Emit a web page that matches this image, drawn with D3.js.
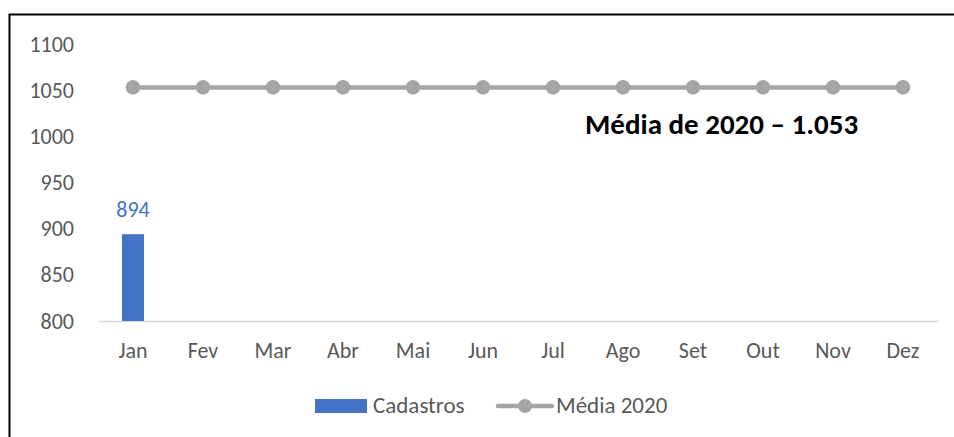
<!DOCTYPE html>
<html><head><meta charset="utf-8">
<script src="https://cdn.jsdelivr.net/npm/d3@7"></script>
<style>body{margin:0;background:#fff}svg{display:block}</style>
</head><body>
<svg id="c" width="954" height="437"></svg>
<script>
const months = ["Jan","Fev","Mar","Abr","Mai","Jun","Jul","Ago","Set","Out","Nov","Dez"];
const cadastros = [894,null,null,null,null,null,null,null,null,null,null,null];
const media2020 = [1053,1053,1053,1053,1053,1053,1053,1053,1053,1053,1053,1053];
const yTicks = [800,850,900,950,1000,1050,1100];
const annotation = "Média de 2020 – 1.053";

const font = "Calibri, Carlito, 'Open Sans', sans-serif";
const svg = d3.select("#c");
svg.append("rect").attr("x",9.5).attr("y",14.5).attr("width",1100).attr("height",600)
  .attr("fill","#fff").attr("stroke","#000").attr("stroke-width",2);

const x = d3.scaleBand().domain(months).range([98,938]);
const y = d3.scaleLinear().domain([800,1100]).range([321,44]);

// y axis labels
svg.append("g").attr("transform","translate(74,0)")
  .call(d3.axisLeft(y).tickValues(yTicks).tickSize(0).tickPadding(0).tickFormat(d3.format("d")))
  .call(g=>g.select(".domain").remove())
  .call(g=>g.selectAll("text").attr("font-family",font).attr("font-size",22).attr("fill","#595959"));

// x axis
svg.append("g").attr("transform","translate(0,321)")
  .call(d3.axisBottom(x).tickSize(0).tickPadding(21))
  .call(g=>g.select(".domain").attr("stroke","#D9D9D9").attr("stroke-width",1.5))
  .call(g=>g.selectAll("text").attr("font-family",font).attr("font-size",22).attr("fill","#595959"));

// bars
const barData = months.map((m,i)=>({m,v:cadastros[i]})).filter(d=>d.v!=null);
const bw = 22;
svg.selectAll(".bar").data(barData).join("rect")
  .attr("x",d=>x(d.m)+x.bandwidth()/2-bw/2).attr("width",bw)
  .attr("y",d=>y(d.v)).attr("height",d=>y(800)-y(d.v)).attr("fill","#4472C4");
svg.selectAll(".blab").data(barData).join("text")
  .attr("x",d=>x(d.m)+x.bandwidth()/2).attr("y",d=>y(d.v)-17)
  .attr("text-anchor","middle").attr("font-family",font).attr("font-size",22).attr("fill","#4472C4")
  .text(d=>d.v);

// line
const lineData = months.map((m,i)=>({m,v:media2020[i]}));
svg.append("path").datum(lineData)
  .attr("d",d3.line().x(d=>x(d.m)+x.bandwidth()/2).y(d=>y(d.v)))
  .attr("fill","none").attr("stroke","#A5A5A5").attr("stroke-width",4.5);
svg.selectAll(".dot").data(lineData).join("circle")
  .attr("cx",d=>x(d.m)+x.bandwidth()/2).attr("cy",d=>y(d.v)).attr("r",7.3).attr("fill","#A5A5A5");

// annotation
svg.append("text").attr("x",585).attr("y",134).attr("font-family",font)
  .attr("font-size",29).attr("font-weight","bold").attr("fill","#000").text(annotation);

// legend
const lg = svg.append("g");
lg.append("rect").attr("x",315).attr("y",399).attr("width",52).attr("height",14).attr("fill","#4472C4");
lg.append("text").attr("x",373).attr("y",413).attr("font-family",font).attr("font-size",23).attr("fill","#595959").text("Cadastros");
lg.append("line").attr("x1",498).attr("x2",552).attr("y1",406).attr("y2",406).attr("stroke","#A5A5A5").attr("stroke-width",4.5).attr("stroke-linecap","round");
lg.append("circle").attr("cx",525).attr("cy",406).attr("r",7).attr("fill","#A5A5A5");
lg.append("text").attr("x",556).attr("y",413).attr("font-family",font).attr("font-size",23).attr("fill","#595959").text("Média 2020");
</script>
</body></html>
